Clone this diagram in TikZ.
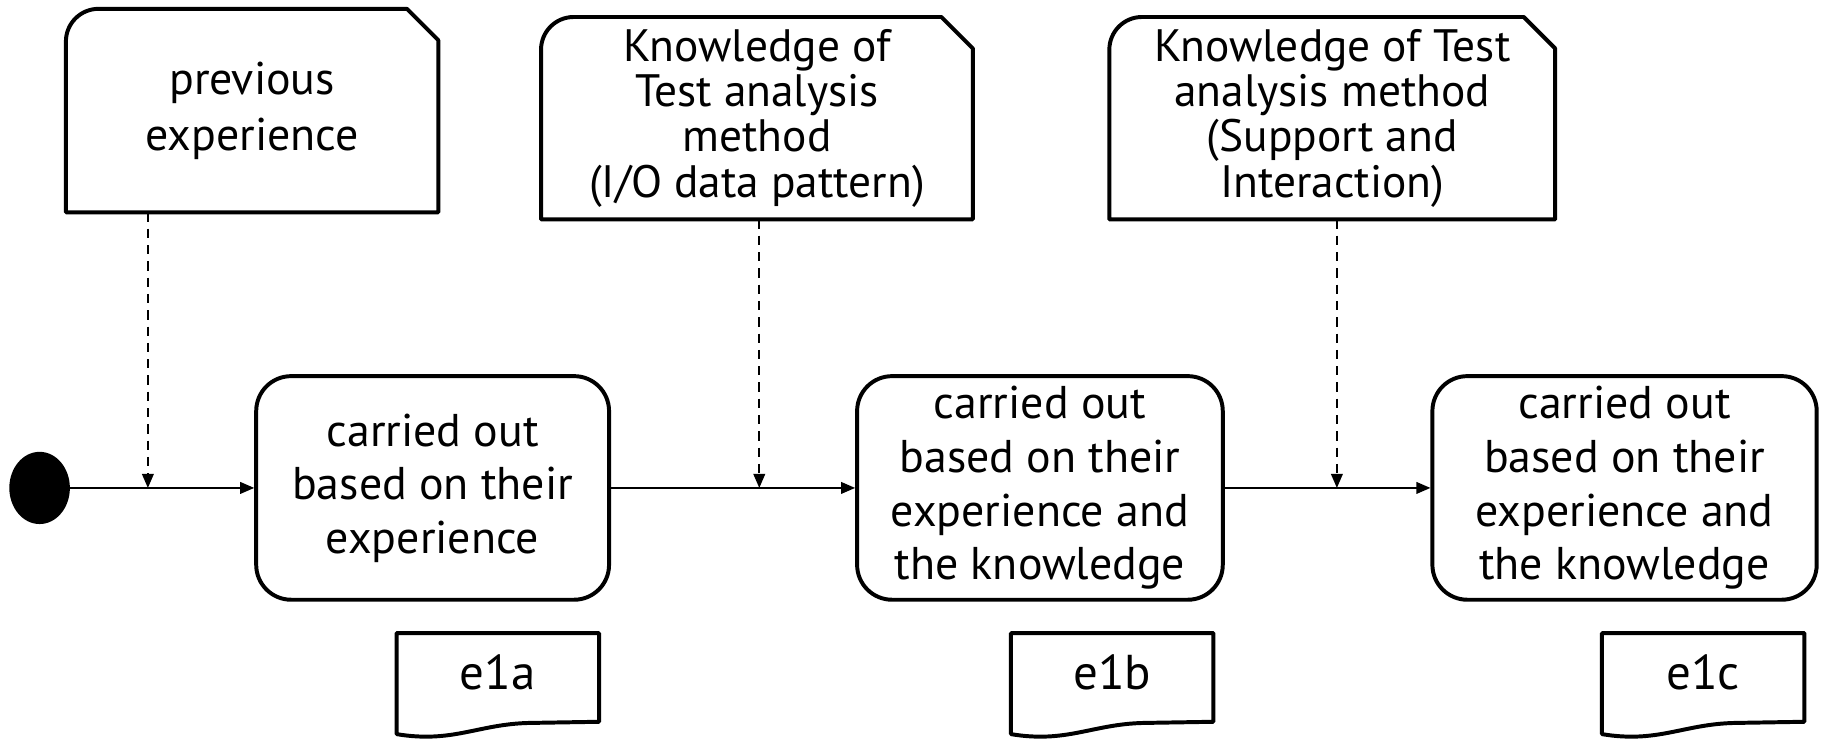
\documentclass[tikz,border=0pt]{standalone}
\usepackage{fontspec}
\setmainfont{PT Sans}
\usetikzlibrary{arrows.meta,shapes.geometric}
\begin{document}
\begin{tikzpicture}[x=0.5pt,y=-0.5pt,
  bd/.style={line width=1.7pt, line join=round},
  big/.style={font=\fontsize{19.7}{23}\selectfont, align=center},
  tight/.style={font=\fontsize{19.5}{19.5}\selectfont, align=center},
  act/.style={draw, bd, rounded corners=15pt, inner sep=0pt, big},
  notebox/.style={inner sep=0pt},
  docbox/.style={inner sep=0pt, minimum width=86.5pt, minimum height=43pt, text height=10pt, text depth=5pt, font=\fontsize{21}{23}\selectfont},
  flow/.style={line width=0.7pt, -{Triangle[length=6pt,width=5pt]}},
  dep/.style={line width=0.7pt, dash pattern=on 4pt off 3pt, -{Triangle[length=6pt,width=5pt]}}
]
\useasboundingbox (0,0) rectangle (1568,635);

% initial node
\node[ellipse, fill=black, minimum width=26pt, minimum height=31pt, inner sep=0pt] (start) at (34,419) {};

% activities
\node[act, minimum width=151.5pt, minimum height=96pt] (a1) at (371.5,419) {carried out\\based on their\\experience};
\node[act, minimum width=157pt, minimum height=96pt] (a2) at (893,419) {carried out\\based on their\\experience and\\the knowledge};
\node[act, minimum width=165pt, minimum height=96pt] (a3) at (1395,419) {carried out\\based on their\\experience and\\the knowledge};

% notes
\node[notebox, big, font=\fontsize{19.7}{24}\selectfont, minimum width=159.5pt, minimum height=87pt] (n1) at (216.5,95) {previous\\experience};
\node[notebox, tight, minimum width=185pt, minimum height=86.5pt] (n2) at (650,101.5) {Knowledge of\\Test analysis\\method\\(I/O data pattern)};
\node[notebox, tight, minimum width=191pt, minimum height=86.5pt] (n3) at (1144,101.5) {Knowledge of Test\\analysis method\\(Support and\\Interaction)};

\foreach \n in {n1,n2,n3}{
  \draw[bd] (\n.south west) -- ([yshift=-14pt]\n.north west)
    arc[start angle=180, end angle=90, radius=14pt]
    -- ([xshift=-13.5pt]\n.north east) -- ([yshift=-13.5pt]\n.north east)
    -- (\n.south east) -- cycle;
}

% documents
\node[docbox] (d1) at (427.5,587) {e1a};
\node[docbox] (d2) at (955,587) {e1b};
\node[docbox] (d3) at (1462.5,587) {e1c};
\foreach \d in {d1,d2,d3}{
  \draw[bd] (\d.south west) -- (\d.north west) -- (\d.north east)
    -- ([yshift=5.3pt]\d.south east) -- ([xshift=-30pt,yshift=4.8pt]\d.south east)
    .. controls ([xshift=-52pt,yshift=4.3pt]\d.south east) and ([xshift=24pt,yshift=-4pt]\d.south west) .. (\d.south west) -- cycle;
}

% junction coordinates
\coordinate (j1) at (127,419);
\coordinate (j2) at (652,419);
\coordinate (j3) at (1148,419);

% flows
\draw[flow] (start) -- (a1);
\draw[flow] (a1) -- (a2);
\draw[flow] (a2) -- (a3);

% dependencies
\draw[dep] (n1.south -| j1) -- (j1);
\draw[dep] (n2.south -| j2) -- (j2);
\draw[dep] (n3.south -| j3) -- (j3);
\end{tikzpicture}
\end{document}
